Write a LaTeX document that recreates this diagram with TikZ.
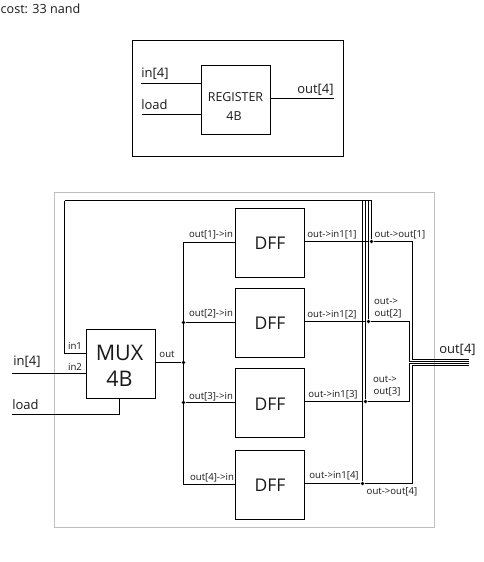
\documentclass[tikz,border=0pt]{standalone}
\usepackage{fontspec}
\setmainfont{Open Sans}
\tikzset{
  px/.style={x=1pt,y=-1pt},
  wire/.style={line width=1.1pt,black},
  blockbox/.style={draw=black,line width=1.1pt,minimum width=69pt,minimum height=69pt,inner sep=0pt,outer sep=0pt,align=center},
  tiny label/.style={font=\fontsize{9.6}{11}\selectfont,text=black!90,inner sep=0pt},
  cost label/.style={font=\fontsize{12.6}{14}\selectfont,text=black!90,inner sep=0pt},
  mid label/.style={font=\fontsize{13}{16}\selectfont,text=black!90,inner sep=0pt},
  reg label/.style={font=\fontsize{12.4}{14}\selectfont,text=black!90,inner sep=0pt},
  dff label/.style={font=\fontsize{17.5}{20}\selectfont,text=black!90,inner sep=0pt},
  mux label/.style={font=\fontsize{21.5}{24}\selectfont,text=black!90,inner sep=0pt},
  dot/.style={circle,fill=black,inner sep=0pt,minimum size=3.8pt},
}
\begin{document}
\begin{tikzpicture}[px]
\useasboundingbox (0,0) rectangle (484,562);
% frames
\node[draw=black,line width=1.1pt,minimum width=211pt,minimum height=116pt,inner sep=0pt] (outer) at (238,98.5) {};
\node[draw=black!25,line width=1.1pt,minimum width=380pt,minimum height=335pt,inner sep=0pt] (frame) at (244.5,360) {};
% register
\node[blockbox] (reg) at (236,100) {};
\node[reg label] (regA) at (235.5,97.5) {REGISTER};
\node[reg label] (regB) at (234,116.5) {4B};
\coordinate (ri) at (141,83.5); \coordinate (rl) at (142,114.5); \coordinate (ro) at (334,98.5);
\draw[wire] (ri) -- (ri -| reg.west);
\draw[wire] (rl) -- (rl -| reg.west);
\draw[wire] (ro -| reg.east) -- (ro);
% blocks
\node[blockbox] (mux) at (121,364) {};
\node[blockbox] (d1) at (270,243) {};
\node[blockbox] (d2) at (270,323) {};
\node[blockbox] (d3) at (270,403) {};
\node[blockbox] (d4) at (270,485) {};
\node[mux label] (muxA) at (119.5,352.5) {MUX};
\node[mux label] (muxB) at (119.5,378.5) {4B};
\foreach \n/\y in {1/243.5,2/323.5,3/404,4/485.5}
  \node[dff label] (dl\n) at (270,\y) {DFF};
% mux inputs
\coordinate (fbL) at (64.5,200.5);
\coordinate (fbM) at (64.5,353.5);
\coordinate (in2) at (12,373.5);
\coordinate (ldL) at (12,414.5);
\coordinate (ldC) at (119.5,414.5);
\draw[wire] (fbL) -- (fbM) -- (fbM -| mux.west);
\draw[wire] (in2) -- (in2 -| mux.west);
\draw[wire] (ldL) -- (ldC) -- (ldC |- mux.south);
% mux output bus
\coordinate (busT) at (183.5,242.5);
\coordinate (busB) at (183.5,484.5);
\node[dot] (j0) at (183.5,362.5) {};
\node[dot] (j2) at (183.5,322.5) {};
\node[dot] (j3) at (183.5,402.5) {};
\draw[wire] (mux.east |- j0) -- (j0);
\draw[wire] (d1.west |- busT) -- (busT) -- (busB) -- (d4.west |- busB);
\draw[wire] (j2) -- (d2.west |- j2);
\draw[wire] (j3) -- (d3.west |- j3);
% feedback verticals
\coordinate (fbR) at (371.5,200.5);
\node[dot] (f1) at (371.5,241.5) {};
\node[dot] (f2) at (368.5,321.5) {};
\node[dot] (f3) at (365.5,401.5) {};
\node[dot] (f4) at (362.5,483.5) {};
\draw[wire] (fbL) -- (fbR) -- (f1);
\draw[wire] (f2 |- fbR) -- (f2);
\draw[wire] (f3 |- fbR) -- (f3);
\draw[wire] (f4 |- fbR) -- (f4);
% outputs
\coordinate (b1) at (412.5,359.5);
\coordinate (b2) at (409.5,361.5);
\coordinate (b3) at (409.5,363.5);
\coordinate (b4) at (412.5,365.5);
\coordinate (e1) at (469,359.5);
\coordinate (e2) at (469,361.5);
\coordinate (e3) at (469,363.5);
\coordinate (e4) at (469,365.5);
\draw[wire] (d1.east |- f1) -- (f1) -- (b1 |- f1) -- (b1) -- (e1);
\draw[wire] (d2.east |- f2) -- (f2) -- (b2 |- f2) -- (b2) -- (e2);
\draw[wire] (d3.east |- f3) -- (f3) -- (b3 |- f3) -- (b3) -- (e3);
\draw[wire] (d4.east |- f4) -- (f4) -- (b4 |- f4) -- (b4) -- (e4);
% texts
\node[cost label] (cost) at (40.5,9) {cost: 33 nand};
\node[mid label] (t1) at (155,74) {in[4]};
\node[mid label] (t2) at (154.5,105) {load};
\node[mid label] (t3) at (315.5,90) {out[4]};
\node[mid label] (t4) at (27,362) {in[4]};
\node[mid label] (t5) at (25.5,405) {load};
\node[mid label] (t6) at (457.5,350) {out[4]};
\node[tiny label] (m1) at (75,345.7) {in1};
\node[tiny label] (m2) at (75,366.7) {in2};
\node[tiny label] (m3) at (167,354) {out};
\node[tiny label] (a1) at (211,234.5) {out[1]->in};
\node[tiny label] (a2) at (211,314) {out[2]->in};
\node[tiny label] (a3) at (211,397) {out[3]->in};
\node[tiny label] (a4) at (212,478) {out[4]->in};
\node[tiny label] (c1) at (332,234.5) {out->in1[1]};
\node[tiny label] (c2) at (332,315) {out->in1[2]};
\node[tiny label] (c3) at (333,395) {out->in1[3]};
\node[tiny label] (c4) at (334,476) {out->in1[4]};
\node[tiny label] (o1) at (400,234.5) {out->out[1]};
\node[tiny label] (o2a) at (386,301) {out->};
\node[tiny label] (o2b) at (388,314) {out[2]};
\node[tiny label] (o3a) at (385,379) {out->};
\node[tiny label] (o3b) at (387,392) {out[3]};
\node[tiny label] (o4) at (392,492) {out->out[4]};
\end{tikzpicture}
\end{document}
